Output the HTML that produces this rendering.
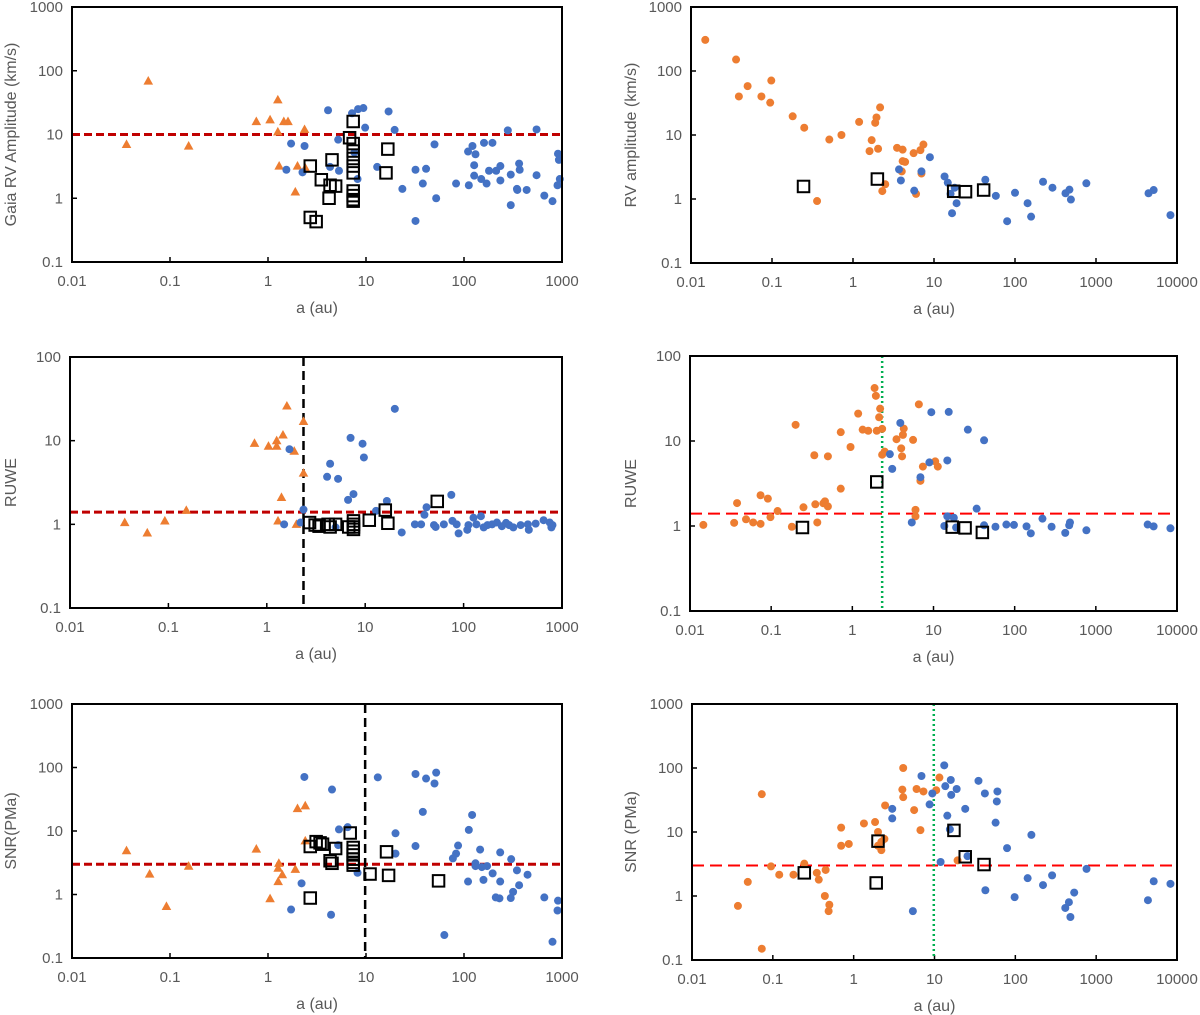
<!DOCTYPE html>
<html>
<head>
<meta charset="utf-8">
<style>
  html, body { margin: 0; padding: 0; background: #fff; }
  svg { display: block; font-family: "Liberation Sans", Arial, sans-serif; }
</style>
</head>
<body>
<svg id="fig" width="1200" height="1015" viewBox="0 0 1200 1015" xmlns="http://www.w3.org/2000/svg"></svg>
<script>
// ---------- Panel 1: Gaia RV amplitude ----------
const p1TriA = [0.036,0.06,0.155,0.76,1.05,1.26,1.26,1.45,1.6,2.36,1.3,2.0,2.4,1.9];
const p1TriV = [7,69,6.6,16,17,35,11,16,16,12,3.2,3.2,3.0,1.26];
const p1DotA = [1.72,2.36,1.54,2.25,4.1,7.2,8.3,9.4,5.2,9.8,7.6,5.3,4.3,8.2,17,19.6,13,23.5,32,32,38,41,50,52,83,110,122,131,160,195,127,127,112,150,170,180,213,235,235,280,300,300,347,350,365,370,436,550,550,660,800,910,930,950,900];
const p1DotV = [7.2,6.6,2.8,2.55,24,21.5,25,26,8.3,12.8,5.2,2.7,3.1,2.0,23,11.8,3.1,1.4,0.44,2.8,1.7,2.9,7,1.0,1.7,5.4,6.6,4.9,7.4,7.4,3.3,2.26,1.6,2.0,1.7,2.7,2.7,3.2,1.9,11.6,2.35,0.78,1.4,1.35,3.5,2.8,1.35,12,2.3,1.1,0.9,5,4,2.0,1.6];
const p1SqA = [7.4,6.8,7.4,7.4,7.4,7.4,7.4,7.4,7.4,7.4,7.4,2.7,3.5,4.5,4.3,4.9,4.2,2.7,3.1,16.7,16];
const p1SqV = [16,8.9,7.2,5.5,4.2,3.2,2.5,1.3,1.1,0.95,0.9,3.2,1.95,4.0,1.6,1.55,1.0,0.5,0.43,5.9,2.5];

// ---------- Panel 2: RV amplitude ----------
const p2OrA = [0.015,0.036,0.039,0.05,0.074,0.095,0.098,0.18,0.25,0.36,0.51,0.72,1.19,1.6,1.7,1.88,1.95,2.04,2.16,2.3,2.5,3.5,4.1,4.1,4.4,4.0,5.6,6.0,6.8,7.4,7.0];
const p2OrV = [306,151,40,58,40,32,71,19.6,13,0.93,8.5,10,16,5.6,8.3,15.5,18.8,6.1,27,1.33,1.7,6.3,5.9,3.9,3.8,2.7,5.2,1.2,5.8,7.1,2.5];
const p2BlA = [3.7,3.9,7.0,8.9,5.7,13.5,14.8,18,16.7,19,16,43,58,80,100,143,158,222,290,420,470,490,760,4450,5150,8300];
const p2BlV = [2.9,1.95,2.7,4.5,1.35,2.25,1.8,1.5,0.6,0.86,1.2,2.0,1.12,0.45,1.25,0.86,0.53,1.86,1.5,1.23,1.4,0.98,1.76,1.23,1.38,0.56];
const p2SqA = [0.245,2.0,17.5,24.5,41];
const p2SqV = [1.57,2.05,1.32,1.3,1.38];

// ---------- Panel 3: RUWE (Gaia) ----------
const p3TriA = [0.036,0.061,0.092,0.152,0.75,1.04,1.26,1.26,1.46,1.6,1.9,2.36,2.36,1.41,1.3,2.0];
const p3TriV = [1.05,0.79,1.1,1.47,9.3,8.6,10,8.6,11.7,26,7.5,17,4.1,2.1,1.1,1.0];
const p3DotA = [1.7,1.5,2.36,2.2,20,7.1,9.4,9.7,4.4,4.1,5.3,6.7,7.6,16.6,12.9,23.5,42,40,75,89,32,37,50,52,63,77,85,109,112,126,135,150,160,175,195,218,245,270,290,320,380,450,460,540,650,750,780,800,5.0];
const p3DotV = [7.9,1.0,1.5,1.05,24,10.8,9.2,6.3,5.3,3.7,3.5,1.96,2.3,1.9,1.45,0.8,1.6,1.3,2.25,0.78,1.0,1.0,0.98,0.93,1.0,1.1,1.0,0.86,0.98,1.2,1.0,1.25,0.92,0.98,1.0,1.05,0.95,1.04,0.98,0.92,0.98,1.0,0.86,1.02,1.12,1.05,0.92,0.98,0.92];
const p3SqA = [2.72,3.1,3.4,4.2,4.4,5.0,6.8,7.6,7.6,7.6,7.6,11,16,17,54];
const p3SqV = [1.05,0.98,0.95,1.0,0.93,1.0,0.93,1.1,1.0,0.93,0.87,1.12,1.48,1.03,1.88];

// ---------- Panel 4: RUWE ----------
const p4OrA = [0.0146,0.035,0.038,0.049,0.06,0.074,0.074,0.091,0.098,0.12,0.18,0.2,0.25,0.34,0.35,0.37,0.44,0.46,0.5,0.5,0.72,0.72,0.95,1.18,1.34,1.57,1.88,1.95,2.0,2.14,2.2,2.33,2.33,2.5,3.5,4.3,4.2,4.0,4.1,5.6,6.0,6.0,6.6,6.9,7.4,10.5,11.3];
const p4OrV = [1.03,1.09,1.86,1.2,1.1,2.3,1.06,2.1,1.27,1.5,0.98,15.5,1.66,6.8,1.8,1.1,1.85,1.95,6.6,1.7,2.75,12.7,8.5,21,13.6,13.2,42,34,13.2,19,24,13.9,6.9,7.5,10.5,14,11.8,8.2,6.6,10.3,1.55,1.3,27,3.4,5.0,5.75,5.0];
const p4BlA = [2.9,3.1,3.9,5.4,6.9,8.9,9.4,14.8,15.4,14.8,13.6,17.8,19,26.5,42,34,42,58,79,98,140,158,220,285,420,470,480,765,4350,5150,8300];
const p4BlV = [7.0,4.7,16.3,1.1,3.75,5.6,21.8,5.9,22,1.3,1.0,1.25,0.96,13.6,10.2,1.6,1.02,0.98,1.04,1.03,0.99,0.82,1.22,0.98,0.83,1.02,1.1,0.89,1.04,0.99,0.94];
const p4SqA = [0.243,2.0,17,24.5,40];
const p4SqV = [0.96,3.3,0.97,0.95,0.84];

// ---------- Panel 5: SNR(PMa) Gaia ----------
const p5TriA = [0.036,0.062,0.092,0.155,0.76,1.05,1.29,1.27,1.27,1.4,1.9,2.0,2.4,2.4];
const p5TriV = [4.9,2.1,0.65,2.8,5.2,0.86,3.1,2.6,1.6,2.05,2.5,22.6,25,7.0];
const p5DotA = [2.35,4.5,1.72,2.2,4.4,5.3,6.5,5.2,8.2,13.2,20,20,32,32,38,41,50,52,63,77,83,87,110,112,121,131,131,146,152,158,172,196,211,230,234,234,300,303,317,347,365,445,660,800,910,900];
const p5DotV = [71,45,0.58,1.5,0.48,10.6,11.5,6,2.2,70,9.2,4.4,79,5.8,20,67,56,83,0.23,3.7,4.4,5.9,1.6,10.4,17.9,3.1,2.8,5.1,2.7,1.7,2.8,2.15,0.9,0.87,4.6,1.6,0.88,3.6,1.1,2.4,1.4,2.05,0.9,0.18,0.8,0.56];
const p5SqA = [2.7,2.7,3.1,3.4,3.6,4.3,4.5,4.9,6.9,7.4,7.4,7.4,7.4,7.4,7.4,11,16.2,17,55];
const p5SqV = [0.88,5.7,6.8,6.5,6.2,3.4,3.1,5.3,9.3,5.5,4.8,4.2,3.6,3.2,2.9,2.1,4.7,2.0,1.64];

// ---------- Panel 6: SNR (PMa) ----------
const p6OrA = [0.037,0.049,0.073,0.073,0.095,0.12,0.18,0.245,0.35,0.37,0.44,0.45,0.5,0.49,0.7,0.7,0.87,1.34,1.84,2.0,2.0,2.2,2.2,2.4,2.45,4.1,4.0,4.1,5.6,6.0,6.7,7.3,10.5,11.5,19.3];
const p6OrV = [0.7,1.66,39,0.15,2.9,2.15,2.15,3.2,2.3,1.8,1.0,2.55,0.73,0.58,11.7,6.1,6.5,13.6,14.3,10,6.1,7.0,5.2,7.8,26,100,46,35,22,47,10.7,43,45,71,3.6];
const p6BlA = [3.0,3.0,5.4,6.9,8.7,9.4,11.9,13.2,13.6,14.4,15.5,15.9,16.1,18.8,24,25.6,35,42,42.6,57,59,60,79,98,142,158,220,285,415,460,480,535,760,4370,5150,8300];
const p6BlV = [16.3,23,0.58,75,27,40,3.4,110,52,18,11,65,38,47,23,4.2,63,40,1.23,14,30,43,5.6,0.96,1.9,9,1.48,2.1,0.65,0.8,0.47,1.13,2.65,0.86,1.7,1.55];
const p6SqA = [0.245,1.9,2.0,17.4,24,41];
const p6SqV = [2.3,1.6,7.2,10.6,4.1,3.1];

const BLUE = '#4472C4', ORANGE = '#ED7D31';
const svg = document.getElementById('fig');
const NS = 'http://www.w3.org/2000/svg';

function mk(tag, attrs, parent) {
  const e = document.createElementNS(NS, tag);
  for (const k in attrs) e.setAttribute(k, attrs[k]);
  (parent || svg).appendChild(e);
  return e;
}

function panel(cfg) {
  const g = mk('g', {});
  
  
  const {x0, x1, y0, y1, xmin, xmax, ymin, ymax} = cfg;
  const lx0 = Math.log10(xmin), lx1 = Math.log10(xmax), ly0 = Math.log10(ymin), ly1 = Math.log10(ymax);
  const sx = v => x0 + (Math.log10(v) - lx0) / (lx1 - lx0) * (x1 - x0);
  const sy = v => y1 - (Math.log10(v) - ly0) / (ly1 - ly0) * (y1 - y0);
  const tickLab = v => (v < 1 ? String(v) : String(Math.round(v)));

  // x ticks
  for (let l = lx0; l <= lx1 + 1e-9; l++) {
    const v = Math.pow(10, l);
    const t = mk('text', {x: sx(v), y: y1 + 24, 'text-anchor': 'middle', 'font-size': 15, fill: '#595959'}, g);
    t.textContent = tickLab(+v.toPrecision(3));
    
    
    const tk = mk('line', {x1: sx(v), x2: sx(v), y1: y1, y2: y1 - 5, stroke: '#000', 'stroke-width': 1.5}, g);
    
    
  }
  // y ticks
  for (let l = ly0; l <= ly1 + 1e-9; l++) {
    const v = Math.pow(10, l);
    const t = mk('text', {x: x0 - 9, y: sy(v) + 5, 'text-anchor': 'end', 'font-size': 15, fill: '#595959'}, g);
    t.textContent = tickLab(+v.toPrecision(3));
    
    
    const tk = mk('line', {x1: x0, x2: x0 + 5, y1: sy(v), y2: sy(v), stroke: '#000', 'stroke-width': 1.5}, g);
    
    
  }
  // titles
  const xt = mk('text', {x: (x0 + x1) / 2, y: y1 + 51, 'text-anchor': 'middle', 'font-size': 16, fill: '#595959'}, g);
  xt.textContent = 'a (au)';
  
  
  const yt = mk('text', {x: 0, y: 0, 'text-anchor': 'middle', 'font-size': 16, fill: '#595959',
    transform: `translate(${cfg.ytx},${(y0 + y1) / 2}) rotate(-90)`}, g);
  yt.textContent = cfg.ytitle;
  
  

  // threshold horizontal
  const hl = mk('line', {x1: x0, x2: x1, y1: sy(cfg.hline), y2: sy(cfg.hline), stroke: cfg.hcol,
    'stroke-width': cfg.hw, 'stroke-dasharray': cfg.hdash}, g);
  
  
  if (cfg.vline) {
    const vl = mk('line', {x1: sx(cfg.vline), x2: sx(cfg.vline), y1: y0, y2: y1, stroke: cfg.vcol,
      'stroke-width': cfg.vw, 'stroke-dasharray': cfg.vdash}, g);
    
    
  }

  // orange series (triangles or dots)
  const oa = cfg.orA, ov = cfg.orV;
  for (let i = 0; i < oa.length; i++) {
    const cx = sx(oa[i]), cy = sy(ov[i]);
    let m;
    if (cfg.tri) {
      m = mk('polygon', {points: `${cx},${cy - 5} ${cx - 4.8},${cy + 3.6} ${cx + 4.8},${cy + 3.6}`, fill: ORANGE}, g);
    } else {
      m = mk('circle', {cx: cx, cy: cy, r: 4, fill: ORANGE}, g);
    }
    
    
  }
  for (let i = 0; i < cfg.blA.length; i++) {
    const m = mk('circle', {cx: sx(cfg.blA[i]), cy: sy(cfg.blV[i]), r: 4, fill: BLUE}, g);
    
    
  }
  for (let i = 0; i < cfg.sqA.length; i++) {
    const s = 11.5;
    const m = mk('rect', {x: sx(cfg.sqA[i]) - s / 2, y: sy(cfg.sqV[i]) - s / 2, width: s, height: s,
      fill: 'none', stroke: '#000', 'stroke-width': 2}, g);
    
    
  }
  // frame
  const fr = mk('rect', {x: x0, y: y0, width: x1 - x0, height: y1 - y0, fill: 'none', stroke: '#000', 'stroke-width': 2}, g);
  
  
}

const LRED = {hcol: '#C00000', hw: 3, hdash: '8,4'};
const RRED = {hcol: '#FF0000', hw: 2, hdash: '12,6'};

panel(Object.assign({name: 'panel-gaia-rv-amplitude', x0: 72, x1: 562, y0: 7, y1: 262, xmin: 0.01, xmax: 1000, ymin: 0.1, ymax: 1000,
  ytx: 16, ytitle: 'Gaia RV Amplitude (km/s)', hline: 10, tri: true,
  orA: p1TriA, orV: p1TriV, blA: p1DotA, blV: p1DotV, sqA: p1SqA, sqV: p1SqV}, LRED));
panel(Object.assign({name: 'panel-rv-amplitude', x0: 691, x1: 1177, y0: 7, y1: 263, xmin: 0.01, xmax: 10000, ymin: 0.1, ymax: 1000,
  ytx: 636, ytitle: 'RV amplitude (km/s)', hline: 1e9, tri: false,
  orA: p2OrA, orV: p2OrV, blA: p2BlA, blV: p2BlV, sqA: p2SqA, sqV: p2SqV}, RRED, {hw: 0}));
panel(Object.assign({name: 'panel-gaia-ruwe', x0: 70, x1: 562, y0: 357, y1: 608, xmin: 0.01, xmax: 1000, ymin: 0.1, ymax: 100,
  ytx: 16, ytitle: 'RUWE', hline: 1.4, tri: true, vline: 2.36, vcol: '#000', vw: 2.5, vdash: '9,5',
  orA: p3TriA, orV: p3TriV, blA: p3DotA, blV: p3DotV, sqA: p3SqA, sqV: p3SqV}, LRED));
panel(Object.assign({name: 'panel-ruwe', x0: 690, x1: 1177, y0: 356, y1: 611, xmin: 0.01, xmax: 10000, ymin: 0.1, ymax: 100,
  ytx: 636, ytitle: 'RUWE', hline: 1.4, tri: false, vline: 2.33, vcol: '#00B050', vw: 2.5, vdash: '2,3',
  orA: p4OrA, orV: p4OrV, blA: p4BlA, blV: p4BlV, sqA: p4SqA, sqV: p4SqV}, RRED));
panel(Object.assign({name: 'panel-gaia-snr-pma', x0: 72, x1: 562, y0: 704, y1: 958, xmin: 0.01, xmax: 1000, ymin: 0.1, ymax: 1000,
  ytx: 16, ytitle: 'SNR(PMa)', hline: 3, tri: true, vline: 9.8, vcol: '#000', vw: 2.5, vdash: '9,5',
  orA: p5TriA, orV: p5TriV, blA: p5DotA, blV: p5DotV, sqA: p5SqA, sqV: p5SqV}, LRED));
panel(Object.assign({name: 'panel-snr-pma', x0: 692, x1: 1177, y0: 704, y1: 960, xmin: 0.01, xmax: 10000, ymin: 0.1, ymax: 1000,
  ytx: 636, ytitle: 'SNR (PMa)', hline: 3, tri: false, vline: 9.8, vcol: '#00B050', vw: 2.5, vdash: '2,3',
  orA: p6OrA, orV: p6OrV, blA: p6BlA, blV: p6BlV, sqA: p6SqA, sqV: p6SqV}, RRED));
</script>
</body>
</html>
